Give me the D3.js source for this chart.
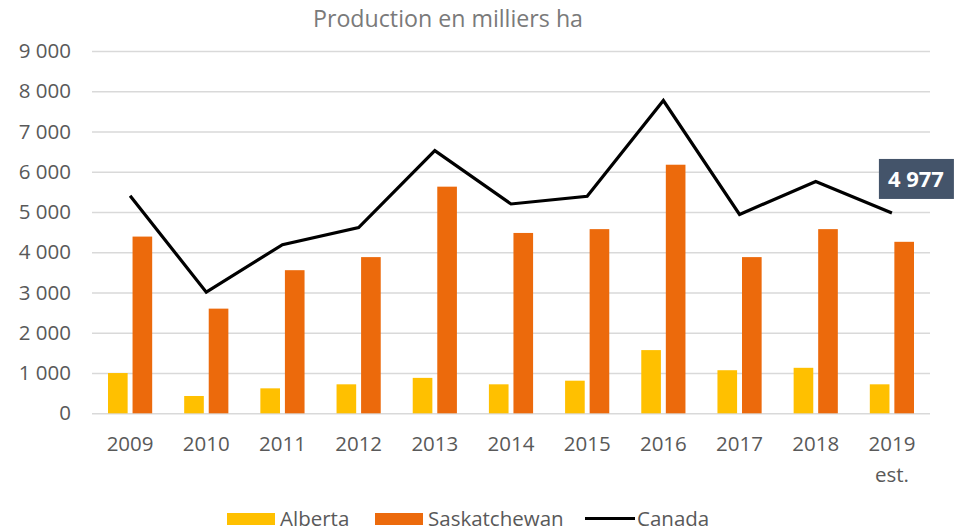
<!DOCTYPE html>
<html>
<head>
<meta charset="utf-8">
<script src="https://cdn.jsdelivr.net/npm/d3@7"></script>
<style>
  body { margin: 0; background: #fff; }
  text { font-family: "Open Sans", sans-serif; }
</style>
</head>
<body>
<script>
var width = 960,
    height = 532;

// data (milliers ha)
var years = ["2009", "2010", "2011", "2012", "2013", "2014", "2015", "2016", "2017", "2018", "2019"];
var yearNotes = ["", "", "", "", "", "", "", "", "", "", "est."];
var alberta = [1000, 430, 620, 720, 880, 720, 810, 1570, 1070, 1130, 720];
var saskatchewan = [4390, 2600, 3555, 3880, 5630, 4480, 4575, 6175, 3880, 4575, 4260];
var canada = [5405, 3010, 4190, 4615, 6525, 5200, 5390, 7770, 4940, 5760, 4977];
var yTicks = [0, 1000, 2000, 3000, 4000, 5000, 6000, 7000, 8000, 9000];
var seriesNames = ["Alberta", "Saskatchewan", "Canada"];
var title = "Production en milliers ha";

var colors = { Alberta: "#FFC000", Saskatchewan: "#EC6A0C", Canada: "#000000" };

var fr = d3.formatLocale({ decimal: ",", thousands: " ", grouping: [3], currency: ["", " $"] });
var fmt = fr.format(",.0f");

var svg = d3.select("body")
    .append("svg")
    .attr("width", width)
    .attr("height", height);

var xScale = d3.scaleBand()
    .domain(years)
    .range([92, 930])
    .paddingInner(0.42)
    .paddingOuter(0.21);

var x1 = d3.scaleBand()
    .domain(["Alberta", "Saskatchewan"])
    .range([0, xScale.bandwidth()])
    .paddingInner(0.2);

var yScale = d3.scaleLinear()
    .domain([0, 9000])
    .range([413.3, 51]);

// title
svg.append("text")
    .attr("x", 448)
    .attr("y", 27)
    .attr("text-anchor", "middle")
    .attr("font-size", 23.2)
    .attr("fill", "#7a7a7a")
    .text(title);

// gridlines + y labels
var yAxis = svg.append("g")
    .attr("transform", "translate(92,0)")
    .call(d3.axisLeft(yScale)
        .tickValues(yTicks)
        .tickSize(-838)
        .tickPadding(21)
        .tickFormat(fmt));

yAxis.select(".domain").remove();
yAxis.selectAll(".tick line")
    .attr("stroke", "#d9d9d9")
    .attr("stroke-width", 1.5);
yAxis.selectAll(".tick text")
    .attr("font-size", 20.5)
    .attr("fill", "#595959")
    .attr("font-family", "Open Sans, sans-serif");

// x labels
var xAxis = svg.append("g")
    .attr("transform", "translate(0,413.3)")
    .call(d3.axisBottom(xScale).tickSize(0).tickPadding(0));

xAxis.select(".domain").remove();
xAxis.selectAll(".tick text").remove();
xAxis.selectAll(".tick").each(function(d, i) {
    var t = d3.select(this).append("text")
        .attr("text-anchor", "middle")
        .attr("font-size", 20.5)
        .attr("fill", "#595959")
        .attr("font-family", "Open Sans, sans-serif");
    t.append("tspan").attr("x", 0).attr("y", 38).text(d);
    if (yearNotes[i]) t.append("tspan").attr("x", 0).attr("y", 69).text(yearNotes[i]);
});

// bars
var barData = [];
years.forEach(function(y, i) {
    barData.push({ year: y, key: "Alberta", value: alberta[i] });
    barData.push({ year: y, key: "Saskatchewan", value: saskatchewan[i] });
});

svg.append("g").selectAll("rect")
    .data(barData)
    .enter().append("rect")
    .attr("x", function(d) { return xScale(d.year) + x1(d.key); })
    .attr("y", function(d) { return yScale(d.value); })
    .attr("width", x1.bandwidth())
    .attr("height", function(d) { return yScale(0) - yScale(d.value); })
    .attr("fill", function(d) { return colors[d.key]; });

// Canada line
var line = d3.line()
    .x(function(d, i) { return xScale(years[i]) + xScale.bandwidth() / 2; })
    .y(function(d) { return yScale(d); });

svg.append("path")
    .datum(canada)
    .attr("fill", "none")
    .attr("stroke", colors.Canada)
    .attr("stroke-width", 3.2)
    .attr("stroke-linejoin", "miter")
    .attr("d", line);

// label on last point
var last = canada.length - 1;
var lx = xScale(years[last]) + xScale.bandwidth() / 2;
var ly = yScale(canada[last]);
var lab = svg.append("g").attr("transform", "translate(" + (lx + 24) + "," + (ly - 34) + ")");
lab.append("rect")
    .attr("x", -37)
    .attr("y", -20)
    .attr("width", 75)
    .attr("height", 40)
    .attr("fill", "#44546A");
lab.append("text")
    .attr("text-anchor", "middle")
    .attr("dy", "0.35em")
    .attr("font-size", 22)
    .attr("font-weight", "bold")
    .attr("fill", "#fff")
    .text(fmt(canada[last]));

// legend
var legendX = [227, 375, 585];
var legend = svg.append("g");
seriesNames.forEach(function(name, i) {
    var g = legend.append("g").attr("transform", "translate(" + legendX[i] + ",0)");
    if (name === "Canada") {
        g.append("line")
            .attr("x1", 0).attr("x2", 50)
            .attr("y1", 518.5).attr("y2", 518.5)
            .attr("stroke", colors[name])
            .attr("stroke-width", 3);
    } else {
        g.append("rect")
            .attr("x", 0).attr("y", 513)
            .attr("width", 48).attr("height", 12)
            .attr("fill", colors[name]);
    }
    g.append("text")
        .attr("x", name === "Canada" ? 52 : 53)
        .attr("y", 526)
        .attr("font-size", 20.5)
        .attr("fill", "#595959")
        .text(name);
});
</script>
</body>
</html>
